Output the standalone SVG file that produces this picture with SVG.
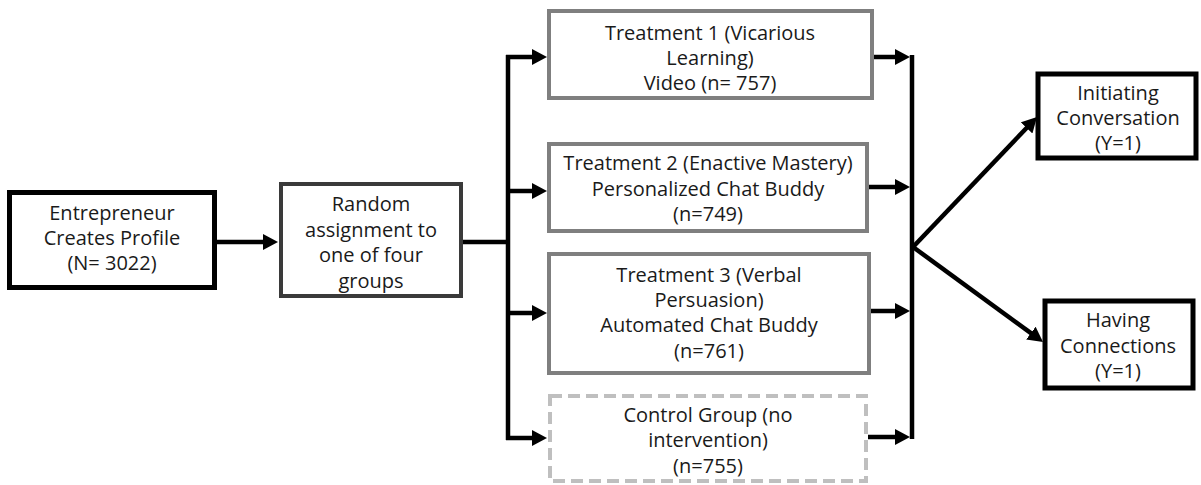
<svg xmlns="http://www.w3.org/2000/svg" width="1201" height="485" viewBox="0 0 1201 485">
<style>
text{font-family:"Open Sans","Noto Sans","Liberation Sans",sans-serif;font-size:20px;fill:#1a1a1a;text-anchor:middle}
.box{fill:#fff}
.k{stroke:#000;stroke-width:5}
.dk{stroke:#3a3a3a;stroke-width:4}
.g{stroke:#7f7f7f;stroke-width:4}
.lg{stroke:#bfbfbf;stroke-width:4;stroke-dasharray:12 6}
.c{stroke:#000;stroke-width:4.5;fill:none}
.a{marker-end:url(#ah)}
</style>
<defs>
<marker id="ah" markerUnits="userSpaceOnUse" markerWidth="18" markerHeight="18" refX="3" refY="8" orient="auto">
<path d="M0,0 L15,8 L0,16 z" fill="#000"/>
</marker>
</defs>
<g id="connectors">
<line class="c a" x1="217" y1="242" x2="266" y2="242"/>
<line class="c" x1="463" y1="242" x2="508" y2="242"/>
<line class="c" x1="508" y1="55" x2="508" y2="440"/>
<line class="c a" x1="506" y1="57" x2="535" y2="57"/>
<line class="c a" x1="506" y1="191" x2="535" y2="191"/>
<line class="c a" x1="506" y1="313" x2="535" y2="313"/>
<line class="c a" x1="506" y1="438" x2="535" y2="438"/>
<line class="c" x1="912" y1="55" x2="912" y2="439"/>
<line class="c a" x1="874" y1="57" x2="898" y2="57"/>
<line class="c a" x1="869" y1="187" x2="898" y2="187"/>
<line class="c a" x1="871" y1="311" x2="898" y2="311"/>
<line class="c a" x1="868" y1="437" x2="898" y2="437"/>
<line class="c a" x1="913" y1="247" x2="1028.7" y2="125.7"/>
<line class="c a" x1="913" y1="247" x2="1033.3" y2="334.9"/>
</g>
<g id="entrepreneur">
<rect class="box k" x="9.5" y="192.5" width="205" height="95"/>
<text x="112" y="220">Entrepreneur</text>
<text x="112" y="245">Creates Profile</text>
<text x="112" y="270">(N= 3022)</text>
</g>
<g id="random">
<rect class="box dk" x="281" y="184" width="180" height="112"/>
<text x="371" y="211">Random</text>
<text x="371" y="236.5">assignment to</text>
<text x="371" y="262">one of four</text>
<text x="371" y="287.5">groups</text>
</g>
<g id="treatment1">
<rect class="box g" x="549" y="11" width="323" height="87"/>
<text x="710" y="40">Treatment 1 (Vicarious</text>
<text x="710" y="65">Learning)</text>
<text x="710" y="90">Video (n= 757)</text>
</g>
<g id="treatment2">
<rect class="box g" x="549" y="144" width="318" height="87"/>
<text x="708" y="170">Treatment 2 (Enactive Mastery)</text>
<text x="708" y="196">Personalized Chat Buddy</text>
<text x="708" y="221">(n=749)</text>
</g>
<g id="treatment3">
<rect class="box g" x="549" y="254" width="320" height="119"/>
<text x="709" y="282">Treatment 3 (Verbal</text>
<text x="709" y="307">Persuasion)</text>
<text x="709" y="332">Automated Chat Buddy</text>
<text x="709" y="358">(n=761)</text>
</g>
<g id="control">
<rect class="box lg" x="550" y="396" width="316" height="85"/>
<text x="708" y="422">Control Group (no</text>
<text x="708" y="447">intervention)</text>
<text x="708" y="473">(n=755)</text>
</g>
<g id="initiating">
<rect class="box k" x="1038" y="74" width="158" height="84"/>
<text x="1118" y="100">Initiating</text>
<text x="1118" y="125">Conversation</text>
<text x="1118" y="150">(Y=1)</text>
</g>
<g id="having">
<rect class="box k" x="1045" y="301" width="148" height="87"/>
<text x="1118" y="327">Having</text>
<text x="1118" y="353">Connections</text>
<text x="1118" y="378">(Y=1)</text>
</g>
</svg>
